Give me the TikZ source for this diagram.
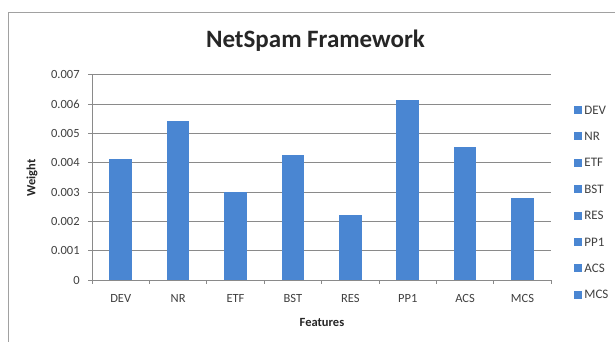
\documentclass[tikz,border=0pt]{standalone}
\usepackage{fontspec}
\setmainfont{Carlito}
\definecolor{barblue}{HTML}{4A86D2}
\definecolor{gridgray}{HTML}{8A8A8A}
\definecolor{txtgray}{HTML}{404040}
\tikzset{
  bar/.style={fill=barblue,draw=none},
  gridline/.style={draw=gridgray,line width=.9pt},
  ticklab/.style={font=\fontsize{12.5}{13}\selectfont,text=txtgray,inner sep=0pt},
  axtitle/.style={font=\fontsize{12.5}{13}\selectfont\bfseries,text=black!85,inner sep=0pt},
  legkey/.style={fill=barblue,draw=none,minimum size=8pt,inner sep=0pt},
  legtext/.style={font=\fontsize{13}{13}\selectfont,text=txtgray,anchor=west,inner sep=0pt}
}
\begin{document}
\begin{tikzpicture}[x=1pt,y=-1pt,line width=.8pt]
  \useasboundingbox (0,0) rectangle (615,342);
  \fill[white] (0,0) rectangle (615,342);
  % chart frame (cut by the page)
  \draw[gridgray!80] (8,360) |- (640,12);
  \node[font=\fontsize{25}{26}\selectfont\bfseries,text=black!85] (title) at (315.5,41) {NetSpam Framework};
  % grid and axes
  \draw[gridline] (88,74.9)--(551,74.9); \draw[gridline] (88,104.2)--(551,104.2);
  \draw[gridline] (88,133.5)--(551,133.5); \draw[gridline] (88,162.8)--(551,162.8);
  \draw[gridline] (88,192.1)--(551,192.1); \draw[gridline] (88,221.4)--(551,221.4);
  \draw[gridline] (88,250.7)--(551,250.7);
  \draw[gridline] (92,74.9)--(92,280); \draw[gridline] (88,280)--(551,280);
  \draw[gridline] (149.4,280)--(149.4,284); \draw[gridline] (206.8,280)--(206.8,284);
  \draw[gridline] (264.2,280)--(264.2,284); \draw[gridline] (321.6,280)--(321.6,284);
  \draw[gridline] (379,280)--(379,284); \draw[gridline] (436.4,280)--(436.4,284);
  \draw[gridline] (493.8,280)--(493.8,284); \draw[gridline] (551,280)--(551,284);
  \draw[gridline] (92,280)--(92,284);
  % y tick labels
  \node[ticklab,anchor=east] (y7) at (80,74.9) {0.007};
  \node[ticklab,anchor=east] (y6) at (80,104.2) {0.006};
  \node[ticklab,anchor=east] (y5) at (80,133.5) {0.005};
  \node[ticklab,anchor=east] (y4) at (80,162.8) {0.004};
  \node[ticklab,anchor=east] (y3) at (80,192.1) {0.003};
  \node[ticklab,anchor=east] (y2) at (80,221.4) {0.002};
  \node[ticklab,anchor=east] (y1) at (80,250.7) {0.001};
  \node[ticklab,anchor=east] (y0) at (80,280) {0};
  % bars
  \fill[bar] (109.4,280) rectangle (132,159);
  \fill[bar] (166.8,280) rectangle (189.4,121);
  \fill[bar] (224.2,280) rectangle (246.8,192);
  \fill[bar] (281.6,280) rectangle (304.2,155);
  \fill[bar] (339,280) rectangle (361.6,215);
  \fill[bar] (396.4,280) rectangle (419,100);
  \fill[bar] (453.8,280) rectangle (476.4,147);
  \fill[bar] (511.2,280) rectangle (533.8,197.7);
  % category labels
  \node[ticklab] (cDEV) at (120.7,298) {DEV};
  \node[ticklab] (cNR) at (178.1,298) {NR};
  \node[ticklab] (cETF) at (235.5,298) {ETF};
  \node[ticklab] (cBST) at (292.9,298) {BST};
  \node[ticklab] (cRES) at (350.3,298) {RES};
  \node[ticklab] (cPP1) at (407.7,298) {PP1};
  \node[ticklab] (cACS) at (465.1,298) {ACS};
  \node[ticklab] (cMCS) at (522.5,298) {MCS};
  % axis titles
  \node[axtitle,rotate=90] (ylab) at (32,178) {Weight};
  \node[axtitle] (xlab) at (322,322) {Features};
  % legend
  \node[legkey] (kDEV) at (577.5,110) {}; \node[legtext] (lDEV) at (584,110) {DEV};
  \node[legkey] (kNR) at (577.5,136.4) {}; \node[legtext] (lNR) at (584,136.4) {NR};
  \node[legkey] (kETF) at (577.5,162.8) {}; \node[legtext] (lETF) at (584,162.8) {ETF};
  \node[legkey] (kBST) at (577.5,189.2) {}; \node[legtext] (lBST) at (584,189.2) {BST};
  \node[legkey] (kRES) at (577.5,215.6) {}; \node[legtext] (lRES) at (584,215.6) {RES};
  \node[legkey] (kPP1) at (577.5,242) {}; \node[legtext] (lPP1) at (584,242) {PP1};
  \node[legkey] (kACS) at (577.5,268.4) {}; \node[legtext] (lACS) at (584,268.4) {ACS};
  \node[legkey] (kMCS) at (577.5,294.8) {}; \node[legtext] (lMCS) at (584,294.8) {MCS};
\end{tikzpicture}
\end{document}
